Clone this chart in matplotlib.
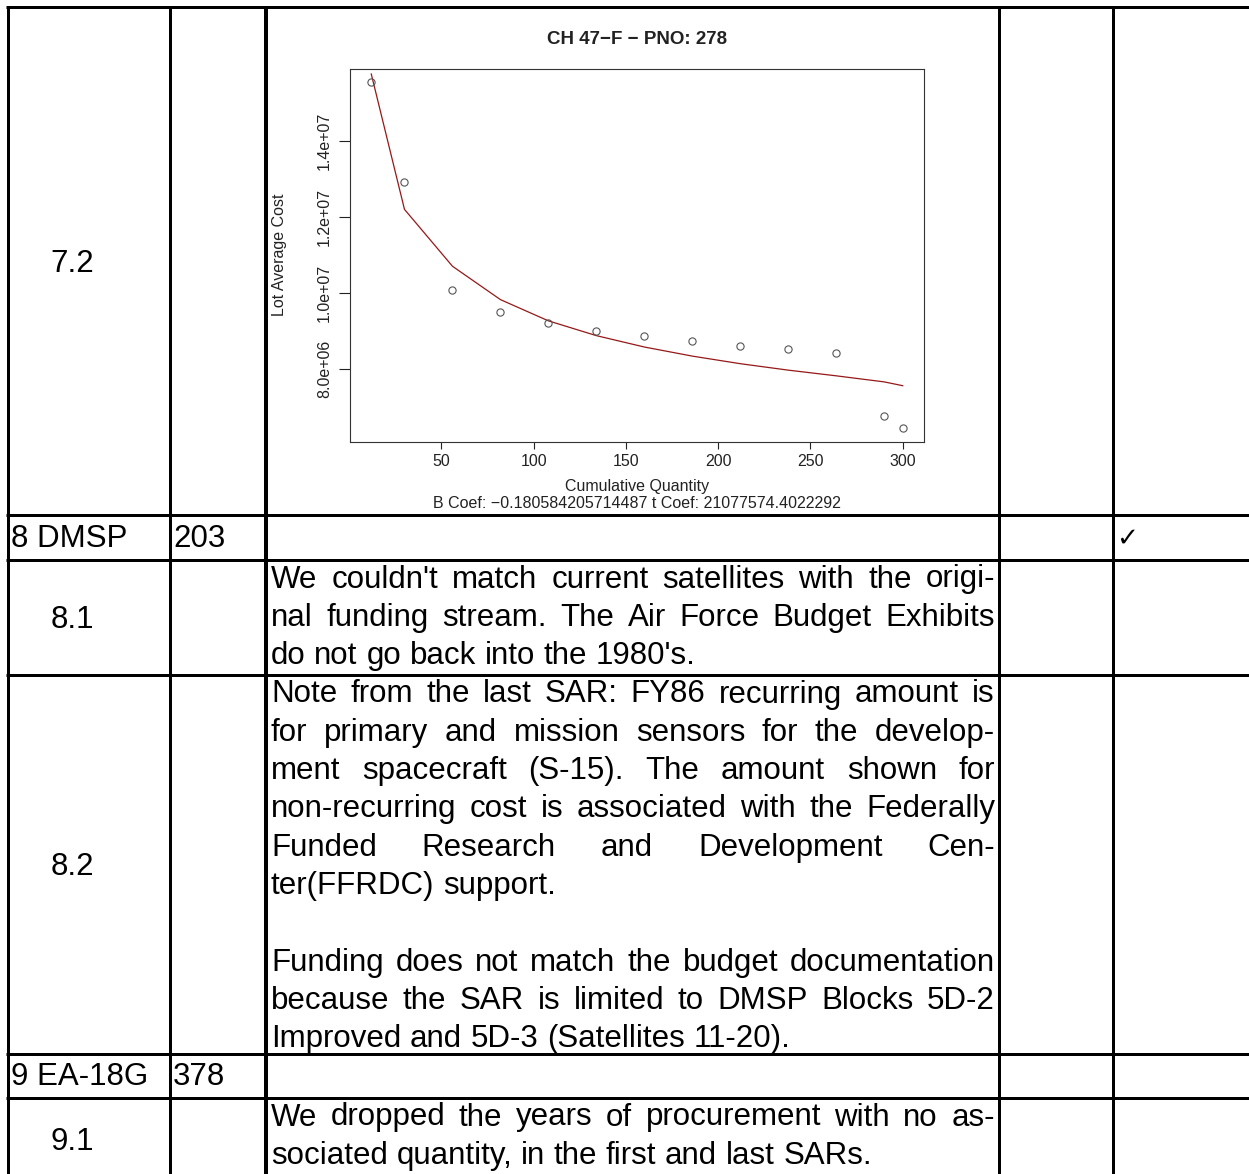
import matplotlib
matplotlib.use('Agg')
import matplotlib.pyplot as plt

# ---------------- data ----------------
cum_qty = [12, 30, 56, 82, 108, 134, 160, 186, 212, 238, 264, 290, 300]
lot_avg_cost = [15.55e6, 12.92e6, 10.08e6, 9.49e6, 9.20e6, 8.985e6, 8.85e6,
                8.72e6, 8.59e6, 8.51e6, 8.41e6, 6.76e6, 6.43e6]
fitted_cost = [15.77e6, 12.20e6, 10.70e6, 9.82e6, 9.26e6, 8.87e6, 8.57e6,
               8.33e6, 8.13e6, 7.96e6, 7.81e6, 7.65e6, 7.55e6]
x_ticks = [50, 100, 150, 200, 250, 300]
y_ticks = [8.0e6, 1.0e7, 1.2e7, 1.4e7]
y_tick_labels = ['8.0e+06', '1.0e+07', '1.2e+07', '1.4e+07']
chart_title = 'CH 47\u2212F \u2212 PNO: 278'
x_label = 'Cumulative Quantity'
y_label = 'Lot Average Cost'
coef_note = 'B Coef: \u22120.180584205714487 t Coef: 21077574.4022292'

row_labels = ['7.2', '8 DMSP', '8.1', '8.2', '9 EA-18G', '9.1']
row_label_centered = [True, False, True, True, False, True]
row_qty = ['', '203', '', '', '378', '']
row_check = [False, True, False, False, False, False]
row_notes = [
    None,
    [],
    ["We couldn't match current satellites with the origi-",
     "nal funding stream. The Air Force Budget Exhibits",
     "do not go back into the 1980's."],
    ["Note from the last SAR: FY86 recurring amount is",
     "for primary and mission sensors for the develop-",
     "ment spacecraft (S-15). The amount shown for",
     "non-recurring cost is associated with the Federally",
     "Funded Research and Development Cen-",
     "ter(FFRDC) support.",
     "",
     "Funding does not match the budget documentation",
     "because the SAR is limited to DMSP Blocks 5D-2",
     "Improved and 5D-3 (Satellites 11-20)."],
    [],
    ["We dropped the years of procurement with no as-",
     "sociated quantity, in the first and last SARs."],
]

# ---------------- layout ----------------
W, H = 1249, 1174
fig = plt.figure(figsize=(W / 100, H / 100), dpi=100)
FAM = ['Liberation Sans', 'DejaVu Sans']
FS = 22.5

tab = fig.add_axes([0, 0, 1, 1])
tab.set_xlim(0, W)
tab.set_ylim(H, 0)
tab.axis('off')

col_lines = [8, 170, 266, 999, 1113]
col_widths = [3, 3, 4, 3, 3]
row_lines = [7, 515, 560, 675, 1054, 1098]
row_bottom = 1180
LW = 3 * 0.72

for x, w in zip(col_lines, col_widths):
    tab.plot([x, x], [row_lines[0] - 1.5, H + 5], color='black', lw=w * 0.72,
             solid_capstyle='butt')
for y in row_lines:
    tab.plot([col_lines[0] - 1.5, W + 5], [y, y], color='black', lw=LW,
             solid_capstyle='butt')

renderer = fig.canvas.get_renderer()


def text_width(s):
    t = tab.text(0, 0, s, fontsize=FS, family=FAM)
    w = t.get_window_extent(renderer).width
    t.remove()
    return w


space_w = text_width('a a') - text_width('aa')

TXT_L, TXT_R = 271, 995
PITCH = 38.3


def draw_paragraph(lines, y_top):
    y = y_top + 27.5
    for i, line in enumerate(lines):
        nxt = lines[i + 1] if i + 1 < len(lines) else ''
        if line:
            words = line.split(' ')
            texts = [tab.text(0, y, wd, fontsize=FS, family=FAM,
                              va='baseline', ha='left') for wd in words]
            widths = [t.get_window_extent(renderer).width for t in texts]
            if nxt and len(words) > 1:
                gap = (TXT_R - TXT_L - sum(widths)) / (len(words) - 1)
            else:
                gap = space_w
            x = TXT_L
            for t, wd in zip(texts, widths):
                t.set_x(x)
                x += wd + gap
        y += PITCH


tops = row_lines
bottoms = row_lines[1:] + [row_bottom]
for i, lab in enumerate(row_labels):
    top, bot = tops[i], bottoms[i]
    mid = (top + bot) / 2
    if row_label_centered[i]:
        tab.text(72.5, mid + 10.5, lab, fontsize=FS, family=FAM,
                 ha='center', va='baseline')
    else:
        tab.text(11, bot - 13, lab, fontsize=FS, family=FAM,
                 ha='left', va='baseline')
    if row_qty[i]:
        tab.text(173, bot - 13, row_qty[i], fontsize=FS, family=FAM,
                 ha='left', va='baseline')
    if row_check[i]:
        tab.text(1116, bot - 14, '\u2713', fontsize=19, family=['DejaVu Sans'],
                 ha='left', va='baseline')
    if row_notes[i]:
        draw_paragraph(row_notes[i], top)

# ---------------- embedded chart ----------------
bx0, bx1, by0, by1 = 350, 924, 68.5, 442
ax = fig.add_axes([bx0 / W, 1 - by1 / H, (bx1 - bx0) / W, (by1 - by0) / H])
ax.plot(cum_qty, fitted_cost, color='#961818', lw=0.9, zorder=2)
ax.plot(cum_qty, lot_avg_cost, linestyle='none', marker='o', ms=5.2,
        mfc='none', mec='#555555', mew=0.8, zorder=3)
xr = max(cum_qty) - min(cum_qty)
ax.set_xlim(min(cum_qty) - 0.04 * xr, max(cum_qty) + 0.04 * xr)
yr = max(lot_avg_cost) - min(lot_avg_cost)
ax.set_ylim(min(lot_avg_cost) - 0.04 * yr, max(lot_avg_cost) + 0.04 * yr)
ax.set_xticks(x_ticks)
ax.set_xticklabels([str(v) for v in x_ticks], fontsize=11.5, family=FAM)
ax.set_yticks(y_ticks)
ax.set_yticklabels(y_tick_labels, fontsize=11.5, family=FAM, rotation=90,
                   va='center')
ax.tick_params(axis='x', length=5, width=0.8, pad=4, colors='#222222')
ax.tick_params(axis='y', length=8, width=0.8, pad=5, colors='#222222')
for sp in ax.spines.values():
    sp.set_linewidth(0.8)
    sp.set_color('#333333')

cx = (bx0 + bx1) / 2
tab.text(cx, 39, chart_title, fontsize=13.5, fontweight='bold', family=FAM,
         ha='center', va='center', color='#222222')
tab.text(cx, 486, x_label, fontsize=11.5, family=FAM, ha='center',
         va='center', color='#222222')
tab.text(cx, 503, coef_note, fontsize=11.5, family=FAM, ha='center',
         va='center', color='#222222')
tab.text(280, (by0 + by1) / 2, y_label, fontsize=11.5, family=FAM,
         ha='center', va='center', rotation=90, color='#222222')

fig.savefig('out.png', dpi=100)
